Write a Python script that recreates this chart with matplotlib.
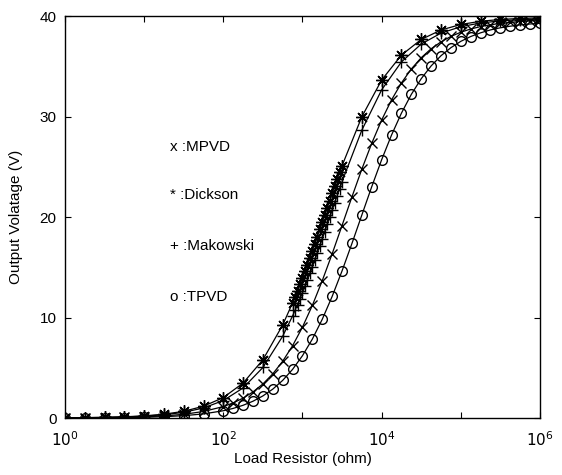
import matplotlib
matplotlib.use("Agg")
import matplotlib.pyplot as plt
import numpy as np

plt.rcParams['font.family'] = ['Liberation Sans', 'DejaVu Sans']

# log10 of load resistance (ohm)
logR_fine = [0, 0.25, 0.5, 0.75, 1, 1.25, 1.5, 1.75, 2,
             2.125, 2.25, 2.375, 2.5, 2.625, 2.75, 2.875, 3, 3.125, 3.25, 3.375, 3.5,
             3.625, 3.75, 3.875, 4, 4.125, 4.25, 4.375, 4.5, 4.625, 4.75, 4.875, 5,
             5.125, 5.25, 5.375, 5.5, 5.625, 5.75, 5.875, 6]
logR_dense = [0, 0.25, 0.5, 0.75, 1, 1.25, 1.5, 1.75, 2, 2.25, 2.5, 2.75,
              2.875, 2.90625, 2.9375, 2.96875, 3.0, 3.03125, 3.0625, 3.09375,
              3.125, 3.15625, 3.1875, 3.21875, 3.25, 3.28125, 3.3125, 3.34375,
              3.375, 3.40625, 3.4375, 3.46875, 3.5,
              3.75, 4.0, 4.25, 4.5, 4.75, 5.0, 5.25, 5.5, 5.75, 6.0]

mpvd = [0.0117, 0.0208, 0.037, 0.0658, 0.117, 0.208, 0.367, 0.649, 1.138,
        1.503, 1.98, 2.596, 3.387, 4.394, 5.65, 7.193, 9.047, 11.21, 13.67, 16.34, 19.16,
        22.01, 24.77, 27.34, 29.65, 31.66, 33.35, 34.74, 35.86, 36.75, 37.44, 37.98, 38.40,
        38.72, 38.96, 39.14, 39.28, 39.38, 39.46, 39.52, 39.57]
tpvd = [0.0074, 0.0131, 0.0233, 0.0413, 0.0734, 0.130, 0.232, 0.409, 0.722,
        0.957, 1.266, 1.670, 2.197, 2.875, 3.744, 4.841, 6.201, 7.857, 9.826, 12.10, 14.64,
        17.37, 20.20, 23.02, 25.70, 28.16, 30.34, 32.21, 33.77, 35.04, 36.06, 36.86, 37.49,
        37.97, 38.34, 38.63, 38.84, 39.00, 39.13, 39.22, 39.29]
dickson = [0.0214, 0.0381, 0.0677, 0.120, 0.213, 0.377, 0.666, 1.173, 2.034, 3.479, 5.793, 9.255,
           11.46, 12.05, 12.67, 13.30, 13.94, 14.60, 15.27, 15.96,
           16.65, 17.35, 18.06, 18.77, 19.49, 20.21, 20.92, 21.64,
           22.35, 23.05, 23.75, 24.44, 25.11,
           29.98, 33.64, 36.12, 37.68, 38.62, 39.17, 39.49, 39.67, 39.77, 39.83]
makowski = [0.0182, 0.0323, 0.0575, 0.102, 0.181, 0.321, 0.567, 0.998, 1.740, 2.992, 5.027, 8.139,
            10.16, 10.71, 11.29, 11.88, 12.49, 13.11, 13.75, 14.40,
            15.07, 15.75, 16.44, 17.14, 17.85, 18.56, 19.27, 19.99,
            20.70, 21.41, 22.12, 22.83, 23.53,
            28.65, 32.66, 35.44, 37.22, 38.31, 38.95, 39.32, 39.53, 39.65, 39.71]

legend_lines = ["x :MPVD", "* :Dickson", "+ :Makowski", "o :TPVD"]
legend_y = [27.0, 22.2, 17.1, 12.0]

R_fine = 10 ** np.array(logR_fine)
R_dense = 10 ** np.array(logR_dense)

fig = plt.figure(figsize=(5.62, 4.75), dpi=100)
ax = fig.add_axes([0.1157, 0.12, 0.845, 0.846])

lw = 0.9
ax.plot(R_fine, mpvd, color='black', lw=lw, marker='x', ms=7, mew=1.0)
ax.plot(R_dense, dickson, color='black', lw=lw, marker=(8, 2, 0), ms=9, mew=1.0)
ax.plot(R_dense, makowski, color='black', lw=lw, marker='+', ms=9, mew=1.0)
ax.plot(R_fine, tpvd, color='black', lw=lw, marker='o', ms=7, mew=1.0, mfc='none')

ax.set_xscale('log')
ax.set_xlim(1, 1e6)
ax.set_ylim(0, 40)
ax.set_xticks([1e0, 1e1, 1e2, 1e3, 1e4, 1e5, 1e6])
ax.set_xticklabels([r'$10^0$', '', r'$10^2$', '', r'$10^4$', '', r'$10^6$'])
ax.xaxis.set_minor_locator(matplotlib.ticker.NullLocator())
ax.set_yticks([0, 10, 20, 30, 40])
ax.tick_params(direction='in', top=True, right=True, labelsize=11, length=4, width=0.8)
ax.tick_params(axis='x', pad=9)
ax.tick_params(axis='y', pad=6)
for s in ax.spines.values():
    s.set_linewidth(1.0)

ax.set_xlabel('Load Resistor (ohm)', fontsize=11, labelpad=2)
ax.set_ylabel('Output Volatage (V)', fontsize=11, labelpad=12)

for t, y in zip(legend_lines, legend_y):
    ax.text(21, y, t, fontsize=11, va='center', ha='left')

fig.savefig('out.png', dpi=100)
